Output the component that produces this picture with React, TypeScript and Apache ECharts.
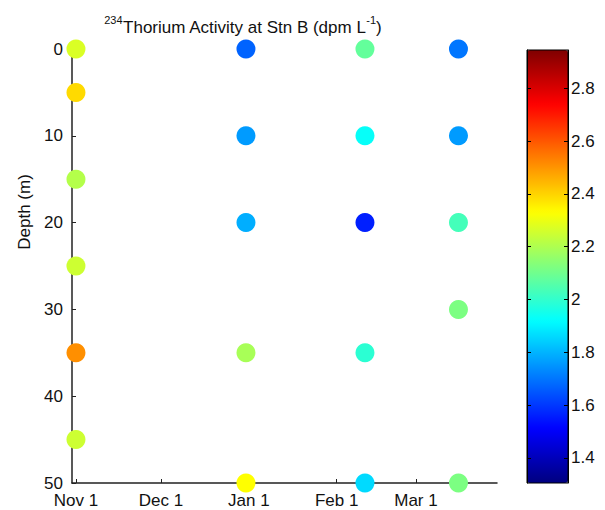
import React, { useEffect, useRef } from "react";
import * as echarts from "echarts";

// Sampling dates, as days since Nov 1
const stationDays = [0, 60, 102, 135];

// Depths (m) and 234Th activity (dpm/L) per station
const novDepths = [0, 5, 15, 25, 35, 45];
const novValues = [2.27, 2.39, 2.21, 2.25, 2.51, 2.25];
const janDepths = [0, 10, 20, 35, 50];
const janValues = [1.67, 1.76, 1.79, 2.19, 2.33];
const febDepths = [0, 10, 20, 35, 50];
const febValues = [2.08, 1.93, 1.56, 1.99, 1.86];
const marDepths = [0, 10, 20, 30, 50];
const marValues = [1.7, 1.76, 2.03, 2.12, 2.12];

// x-axis ticks (days since Nov 1) and labels
const monthTickDays = [0, 30, 61, 92, 120];
const monthTickLabels = ["Nov 1", "Dec 1", "Jan 1", "Feb 1", "Mar 1"];

// Colour bar
const colorMin = 1.305;
const colorMax = 2.945;
const colorTicks = [1.4, 1.6, 1.8, 2, 2.2, 2.4, 2.6, 2.8];
const jet = ["#00007f", "#0000ff", "#007fff", "#00ffff", "#7fff7f", "#ffff00", "#ff7f00", "#ff0000", "#7f0000"];

const FONT = "'Liberation Sans', Arial, sans-serif";

export default function App() {
  const ref = useRef<HTMLDivElement>(null);
  useEffect(() => {
    if (!ref.current) return;
    const chart = echarts.init(ref.current, null, { renderer: "svg" });
    const stations = [
      [novDepths, novValues],
      [janDepths, janValues],
      [febDepths, febValues],
      [marDepths, marValues],
    ];
    const data: number[][] = [];
    stations.forEach(([d, v], i) => {
      d.forEach((dep, j) => data.push([stationDays[i], dep, v[j]]));
    });
    const axisLine = { show: true, onZero: false, lineStyle: { color: "#222", width: 1.5 } };
    const labelStyle = { color: "#111", fontSize: 17, fontFamily: FONT };
    chart.setOption({
      animation: false,
      backgroundColor: "#fff",
      grid: [
        { left: 72, right: 108, top: 49, bottom: 27 },
        { left: 527, top: 50, width: 41, height: 433, show: true, borderColor: "#000", borderWidth: 1, z: 10 },
      ],
      xAxis: [
        {
          gridIndex: 0,
          type: "value",
          position: "bottom",
          min: -1.4,
          max: 148.6,
          axisLine,
          splitLine: { show: false },
          axisTick: { show: true, inside: true, length: 4, customValues: monthTickDays, lineStyle: { color: "#222" } },
          axisLabel: {
            ...labelStyle,
            margin: 9,
            customValues: monthTickDays,
            formatter: (v: number) => {
              const i = monthTickDays.indexOf(v);
              return i >= 0 ? monthTickLabels[i] : "";
            },
          },
        },
        { gridIndex: 1, type: "value", min: 0, max: 1, show: false },
      ],
      yAxis: [
        {
          gridIndex: 0,
          type: "value",
          position: "left",
          inverse: true,
          min: 0,
          max: 50,
          interval: 10,
          axisLine,
          splitLine: { show: false },
          axisTick: { show: true, inside: true, length: 4, lineStyle: { color: "#222" } },
          axisLabel: { ...labelStyle, margin: 9 },
        },
        {
          gridIndex: 1,
          type: "value",
          min: colorMin,
          max: colorMax,
          position: "right",
          z: 10,
          axisLine: { show: true, onZero: false, lineStyle: { color: "#000", width: 1 } },
          splitLine: { show: false },
          axisTick: { show: true, inside: true, length: 4, customValues: colorTicks, lineStyle: { color: "#000" } },
          axisLabel: { ...labelStyle, margin: 3, customValues: colorTicks, formatter: (v: number) => String(v) },
        },
        {
          gridIndex: 1,
          type: "value",
          min: colorMin,
          max: colorMax,
          position: "left",
          z: 10,
          axisLine: { show: true, onZero: false, lineStyle: { color: "#000", width: 1 } },
          splitLine: { show: false },
          axisTick: { show: true, inside: true, length: 4, customValues: colorTicks, lineStyle: { color: "#000" } },
          axisLabel: { show: false },
        },
      ],
      visualMap: {
        type: "continuous",
        min: colorMin,
        max: colorMax,
        dimension: 2,
        seriesIndex: 0,
        left: 527,
        top: 50,
        itemWidth: 41,
        itemHeight: 433,
        padding: 0,
        calculable: false,
        hoverLink: false,
        inRange: { color: jet },
      },
      series: [
        {
          type: "scatter",
          xAxisIndex: 0,
          yAxisIndex: 0,
          symbol: "circle",
          symbolSize: 19,
          clip: false,
          itemStyle: { opacity: 1 },
          data,
        },
      ],
      graphic: [
        {
          type: "text",
          x: 243,
          y: 25,
          style: {
            text: "{sup|234}{t|Thorium Activity at Stn B (dpm L}{sup|-1}{t|)}",
            align: "center",
            verticalAlign: "middle",
            fill: "#111",
            fontFamily: FONT,
            rich: {
              t: { fontSize: 17, lineHeight: 22, fontFamily: FONT, fill: "#111", verticalAlign: "bottom" },
              sup: { fontSize: 11, lineHeight: 12, fontFamily: FONT, fill: "#111", verticalAlign: "top" },
            },
          },
        },
        {
          type: "text",
          x: 24,
          y: 212,
          rotation: Math.PI / 2,
          style: {
            text: "Depth (m)",
            align: "center",
            verticalAlign: "middle",
            fill: "#111",
            fontSize: 17,
            fontFamily: FONT,
          },
        },
      ],
    });
    return () => chart.dispose();
  }, []);
  return <div ref={ref} style={{ position: "fixed", left: 0, top: 0, width: 605, height: 510 }} />;
}
